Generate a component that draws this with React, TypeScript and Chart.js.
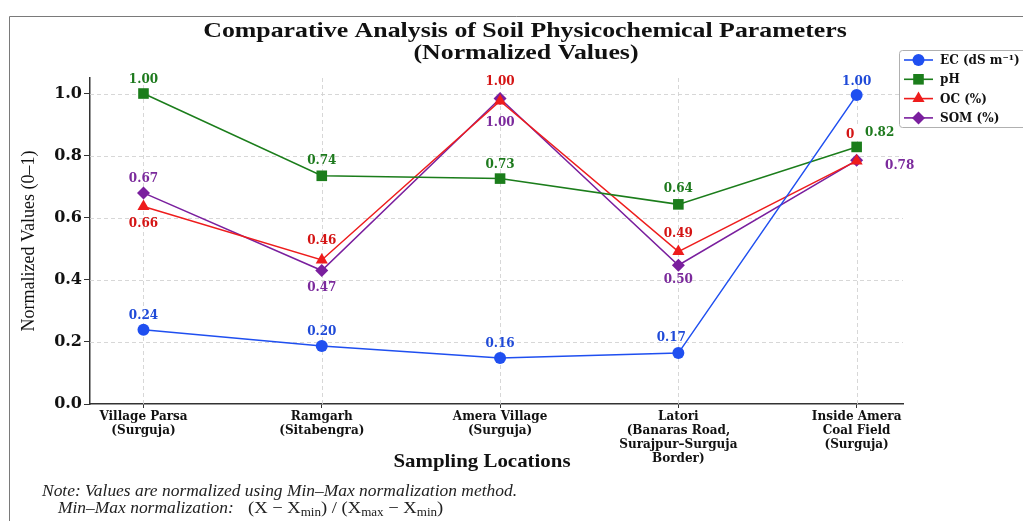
import React, { useEffect, useRef } from "react";
import { Chart, registerables } from "chart.js";

Chart.register(...registerables);

const categories: string[][] = [
  ["Village Parsa", "(Surguja)"],
  ["Ramgarh", "(Sitabengra)"],
  ["Amera Village", "(Surguja)"],
  ["Latori", "(Banaras Road,", "Surajpur–Surguja", "Border)"],
  ["Inside Amera", "Coal Field", "(Surguja)"],
];

const ecValues = [0.239, 0.187, 0.148, 0.164, 0.995];
const phValues = [1.0, 0.735, 0.726, 0.643, 0.828];
const ocValues = [0.636, 0.464, 0.976, 0.491, 0.783];
const somValues = [0.68, 0.43, 0.984, 0.447, 0.785];

const ecLabels = ["0.24", "0.20", "0.16", "0.17", "1.00"];
const phLabels = ["1.00", "0.74", "0.73", "0.64", "0.82"];
const ocLabels = ["0.66", "0.46", "1.00", "0.49", "0.78"];
const somLabels = ["0.67", "0.47", "1.00", "0.50", "0.78"];

const yTicks = [0, 0.2, 0.4, 0.6, 0.8, 1.0];

const seriesNames = ["EC (dS m⁻¹)", "pH", "OC (%)", "SOM (%)"];
const titleLines = ["Comparative Analysis of Soil Physicochemical Parameters", "(Normalized Values)"];
const xTitle = "Sampling Locations";
const yTitle = "Normalized Values (0–1)";
const noteLine = "Note: Values are normalized using Min–Max normalization method.";
const formulaLead = "Min–Max normalization:";

// styling
const colors = ["#1f4ff0", "#1b7d1b", "#ee1c1c", "#7a1f9e"];
const labelColors = ["#1f4ad8", "#1e7a1e", "#d41414", "#7b2a9c"];
const shapes = ["circle", "rect", "triangle", "rectRot"];
const radii = [6, 7.5, 7, 6.5];
const labelOffsets: number[][][] = [
  [[0, -14], [0, -14], [0, -14], [-7, -15], [0, -13]],
  [[0, -14], [0, -15], [0, -14], [0, -15], [23, -14]],
  [[0, 17], [0, -19], [0, -19], [0, -18], [4, -26]],
  [[0, -14], [0, 17], [0, 24], [0, 15], [43, 6]],
];

function drawMarker(ctx: CanvasRenderingContext2D, shape: string, x: number, y: number, r: number, color: string) {
  ctx.save();
  ctx.fillStyle = color;
  ctx.beginPath();
  if (shape === "circle") {
    ctx.arc(x, y, r, 0, Math.PI * 2);
  } else if (shape === "rect") {
    const s = r * Math.SQRT1_2;
    ctx.rect(x - s, y - s, 2 * s, 2 * s);
  } else if (shape === "triangle") {
    for (let k = 0; k < 3; k++) {
      const a = (k * 2 * Math.PI) / 3;
      const px = x + Math.sin(a) * r;
      const py = y - Math.cos(a) * r;
      if (k === 0) ctx.moveTo(px, py);
      else ctx.lineTo(px, py);
    }
    ctx.closePath();
  } else {
    ctx.moveTo(x, y - r);
    ctx.lineTo(x + r, y);
    ctx.lineTo(x, y + r);
    ctx.lineTo(x - r, y);
    ctx.closePath();
  }
  ctx.fill();
  ctx.restore();
}

function wideText(ctx: CanvasRenderingContext2D, text: string, x: number, y: number, sx: number, align: CanvasTextAlign) {
  ctx.save();
  ctx.translate(x, y);
  ctx.scale(sx, 1);
  ctx.textAlign = align;
  ctx.fillText(text, 0, 0);
  ctx.restore();
}

const gridPlugin = {
  id: "dashedGrid",
  beforeDatasetsDraw(chart: any) {
    const { ctx, chartArea, scales } = chart;
    ctx.save();
    ctx.strokeStyle = "#d2d2d2";
    ctx.lineWidth = 0.9;
    ctx.setLineDash([4, 3]);
    yTicks.forEach((v) => {
      if (v === 0) return;
      const y = Math.round(scales.y.getPixelForValue(v)) + 0.5;
      ctx.beginPath();
      ctx.moveTo(chartArea.left, y);
      ctx.lineTo(chartArea.right, y);
      ctx.stroke();
    });
    categories.forEach((_, i) => {
      const x = Math.round(scales.x.getPixelForValue(i)) + 0.5;
      ctx.beginPath();
      ctx.moveTo(x, chartArea.top);
      ctx.lineTo(x, chartArea.bottom);
      ctx.stroke();
    });
    ctx.restore();
  },
};

const labelSets = [ecLabels, phLabels, ocLabels, somLabels];

const dataLabelPlugin = {
  id: "dataLabels",
  afterDatasetsDraw(chart: any) {
    const { ctx } = chart;
    ctx.save();
    ctx.font = 'bold 12px "DejaVu Serif"';
    ctx.textAlign = "center";
    ctx.textBaseline = "middle";
    const order = [0, 2, 3, 1];
    order.forEach((d) => {
      const meta = chart.getDatasetMeta(d);
      meta.data.forEach((pt: any, i: number) => {
        const [dx, dy] = labelOffsets[d][i];
        const tx = pt.x + dx;
        const ty = pt.y + dy;
        const text = labelSets[d][i];
        if (d === 1 && dx !== 0) {
          const w = ctx.measureText(text).width;
          ctx.fillStyle = "#ffffff";
          ctx.fillRect(tx - w / 2 - 10, ty - 8, w + 13, 16);
        }
        ctx.fillStyle = labelColors[d];
        ctx.fillText(text, tx, ty);
      });
    });
    ctx.restore();
  },
};

const decorPlugin = {
  id: "decor",
  afterDraw(chart: any) {
    const { ctx, width, height } = chart;
    ctx.save();
    // frame
    ctx.strokeStyle = "#7a7a7a";
    ctx.lineWidth = 1;
    ctx.beginPath();
    ctx.moveTo(9.5, height);
    ctx.lineTo(9.5, 16.5);
    ctx.lineTo(width, 16.5);
    ctx.stroke();

    // title
    ctx.fillStyle = "#111";
    ctx.textBaseline = "middle";
    ctx.font = 'bold 21px "Liberation Serif"';
    wideText(ctx, titleLines[0], 525, 32, 1.23, "center");
    wideText(ctx, titleLines[1], 526, 54, 1.23, "center");

    // x axis title
    ctx.font = 'bold 19px "Liberation Serif"';
    wideText(ctx, xTitle, 482, 462, 1.1, "center");

    // legend
    const lx = 899.5;
    const ly = 50.5;
    ctx.fillStyle = "rgba(255,255,255,0.9)";
    ctx.strokeStyle = "#b0b0b0";
    ctx.beginPath();
    ctx.roundRect(lx, ly, 140, 77, 3);
    ctx.fill();
    ctx.stroke();
    ctx.textAlign = "left";
    ctx.font = 'bold 12px "DejaVu Serif"';
    seriesNames.forEach((name, i) => {
      const y = 60 + i * 19.3;
      ctx.strokeStyle = colors[i];
      ctx.lineWidth = 1.6;
      ctx.beginPath();
      ctx.moveTo(904, y);
      ctx.lineTo(933, y);
      ctx.stroke();
      drawMarker(ctx, shapes[i], 918.5, y, radii[i], colors[i]);
      ctx.fillStyle = "#111";
      ctx.fillText(name, 940, y + 1);
    });

    // note
    ctx.fillStyle = "#222";
    ctx.font = 'italic 16px "Liberation Serif"';
    wideText(ctx, noteLine, 42, 492, 1.09, "left");
    ctx.save();
    ctx.translate(58, 509);
    ctx.scale(1.09, 1);
    ctx.textAlign = "left";
    ctx.fillText(formulaLead, 0, 0);
    let x = (248 - 58) / 1.09;
    const parts: [string, boolean][] = [
      ["(X − X", false], ["min", true], [") / (X", false], ["max", true], [" − X", false], ["min", true], [")", false],
    ];
    parts.forEach(([t, sub]) => {
      ctx.font = sub ? '12px "Liberation Serif"' : '17px "Liberation Serif"';
      ctx.fillText(t, x, sub ? 4 : 0);
      x += ctx.measureText(t).width;
    });
    ctx.restore();
    ctx.restore();
  },
};

export default function App() {
  const ref = useRef<HTMLCanvasElement | null>(null);

  useEffect(() => {
    if (!ref.current) return;
    const datasets = [ecValues, phValues, ocValues, somValues].map((vals, d) => ({
      label: seriesNames[d],
      data: vals.map((v, i) => ({ x: i, y: v })),
      borderColor: colors[d],
      backgroundColor: colors[d],
      pointBackgroundColor: colors[d],
      pointBorderColor: colors[d],
      pointStyle: shapes[d],
      pointRadius: radii[d],
      pointBorderWidth: 0,
      borderWidth: 1.5,
      tension: 0,
      fill: false,
    }));

    const chart = new Chart(ref.current, {
      type: "line",
      data: { datasets },
      options: {
        animation: false,
        responsive: false,
        maintainAspectRatio: false,
        layout: { padding: { left: 0, top: 78, right: 120, bottom: 47 } },
        plugins: {
          legend: { display: false },
          tooltip: { enabled: false },
          title: { display: false },
        },
        scales: {
          x: {
            type: "linear",
            min: -0.3,
            max: 4.26,
            afterBuildTicks: (s: any) => {
              s.ticks = categories.map((_, i) => ({ value: i }));
            },
            afterFit: (s: any) => {
              s.height = 70;
            },
            ticks: {
              callback: (v: any) => categories[v] ?? "",
              font: { family: "DejaVu Serif", weight: "bold", size: 12, lineHeight: 1.17 },
              color: "#111",
              padding: 2,
              maxRotation: 0,
              autoSkip: false,
            },
            grid: { drawOnChartArea: false, drawTicks: true, tickLength: 4, tickColor: "#333", tickWidth: 1 },
            border: { display: true, color: "#333", width: 1.5 },
            title: { display: false },
          },
          y: {
            min: 0,
            max: 1.05,
            afterBuildTicks: (s: any) => {
              s.ticks = yTicks.map((v) => ({ value: v }));
            },
            afterFit: (s: any) => {
              s.width = 90;
            },
            ticks: {
              callback: (v: any) => Number(v).toFixed(1),
              font: { family: "DejaVu Serif", weight: "bold", size: 16 },
              color: "#111",
              padding: 2,
            },
            grid: { drawOnChartArea: false, drawTicks: true, tickLength: 6, tickColor: "#333", tickWidth: 1 },
            border: { display: true, color: "#333", width: 1.5 },
            title: {
              display: true,
              text: yTitle,
              font: { family: "Liberation Serif", size: 18 },
              color: "#111",
              padding: { top: 18, bottom: 0 },
            },
          },
        },
      } as any,
      plugins: [gridPlugin, dataLabelPlugin, decorPlugin],
    });
    return () => chart.destroy();
  }, []);

  return (
    <div style={{ position: "fixed", left: 0, top: 0, width: 1023, height: 521, background: "#fff" }}>
      <canvas ref={ref} width={1023} height={521} style={{ display: "block", width: 1023, height: 521 }} />
    </div>
  );
}
